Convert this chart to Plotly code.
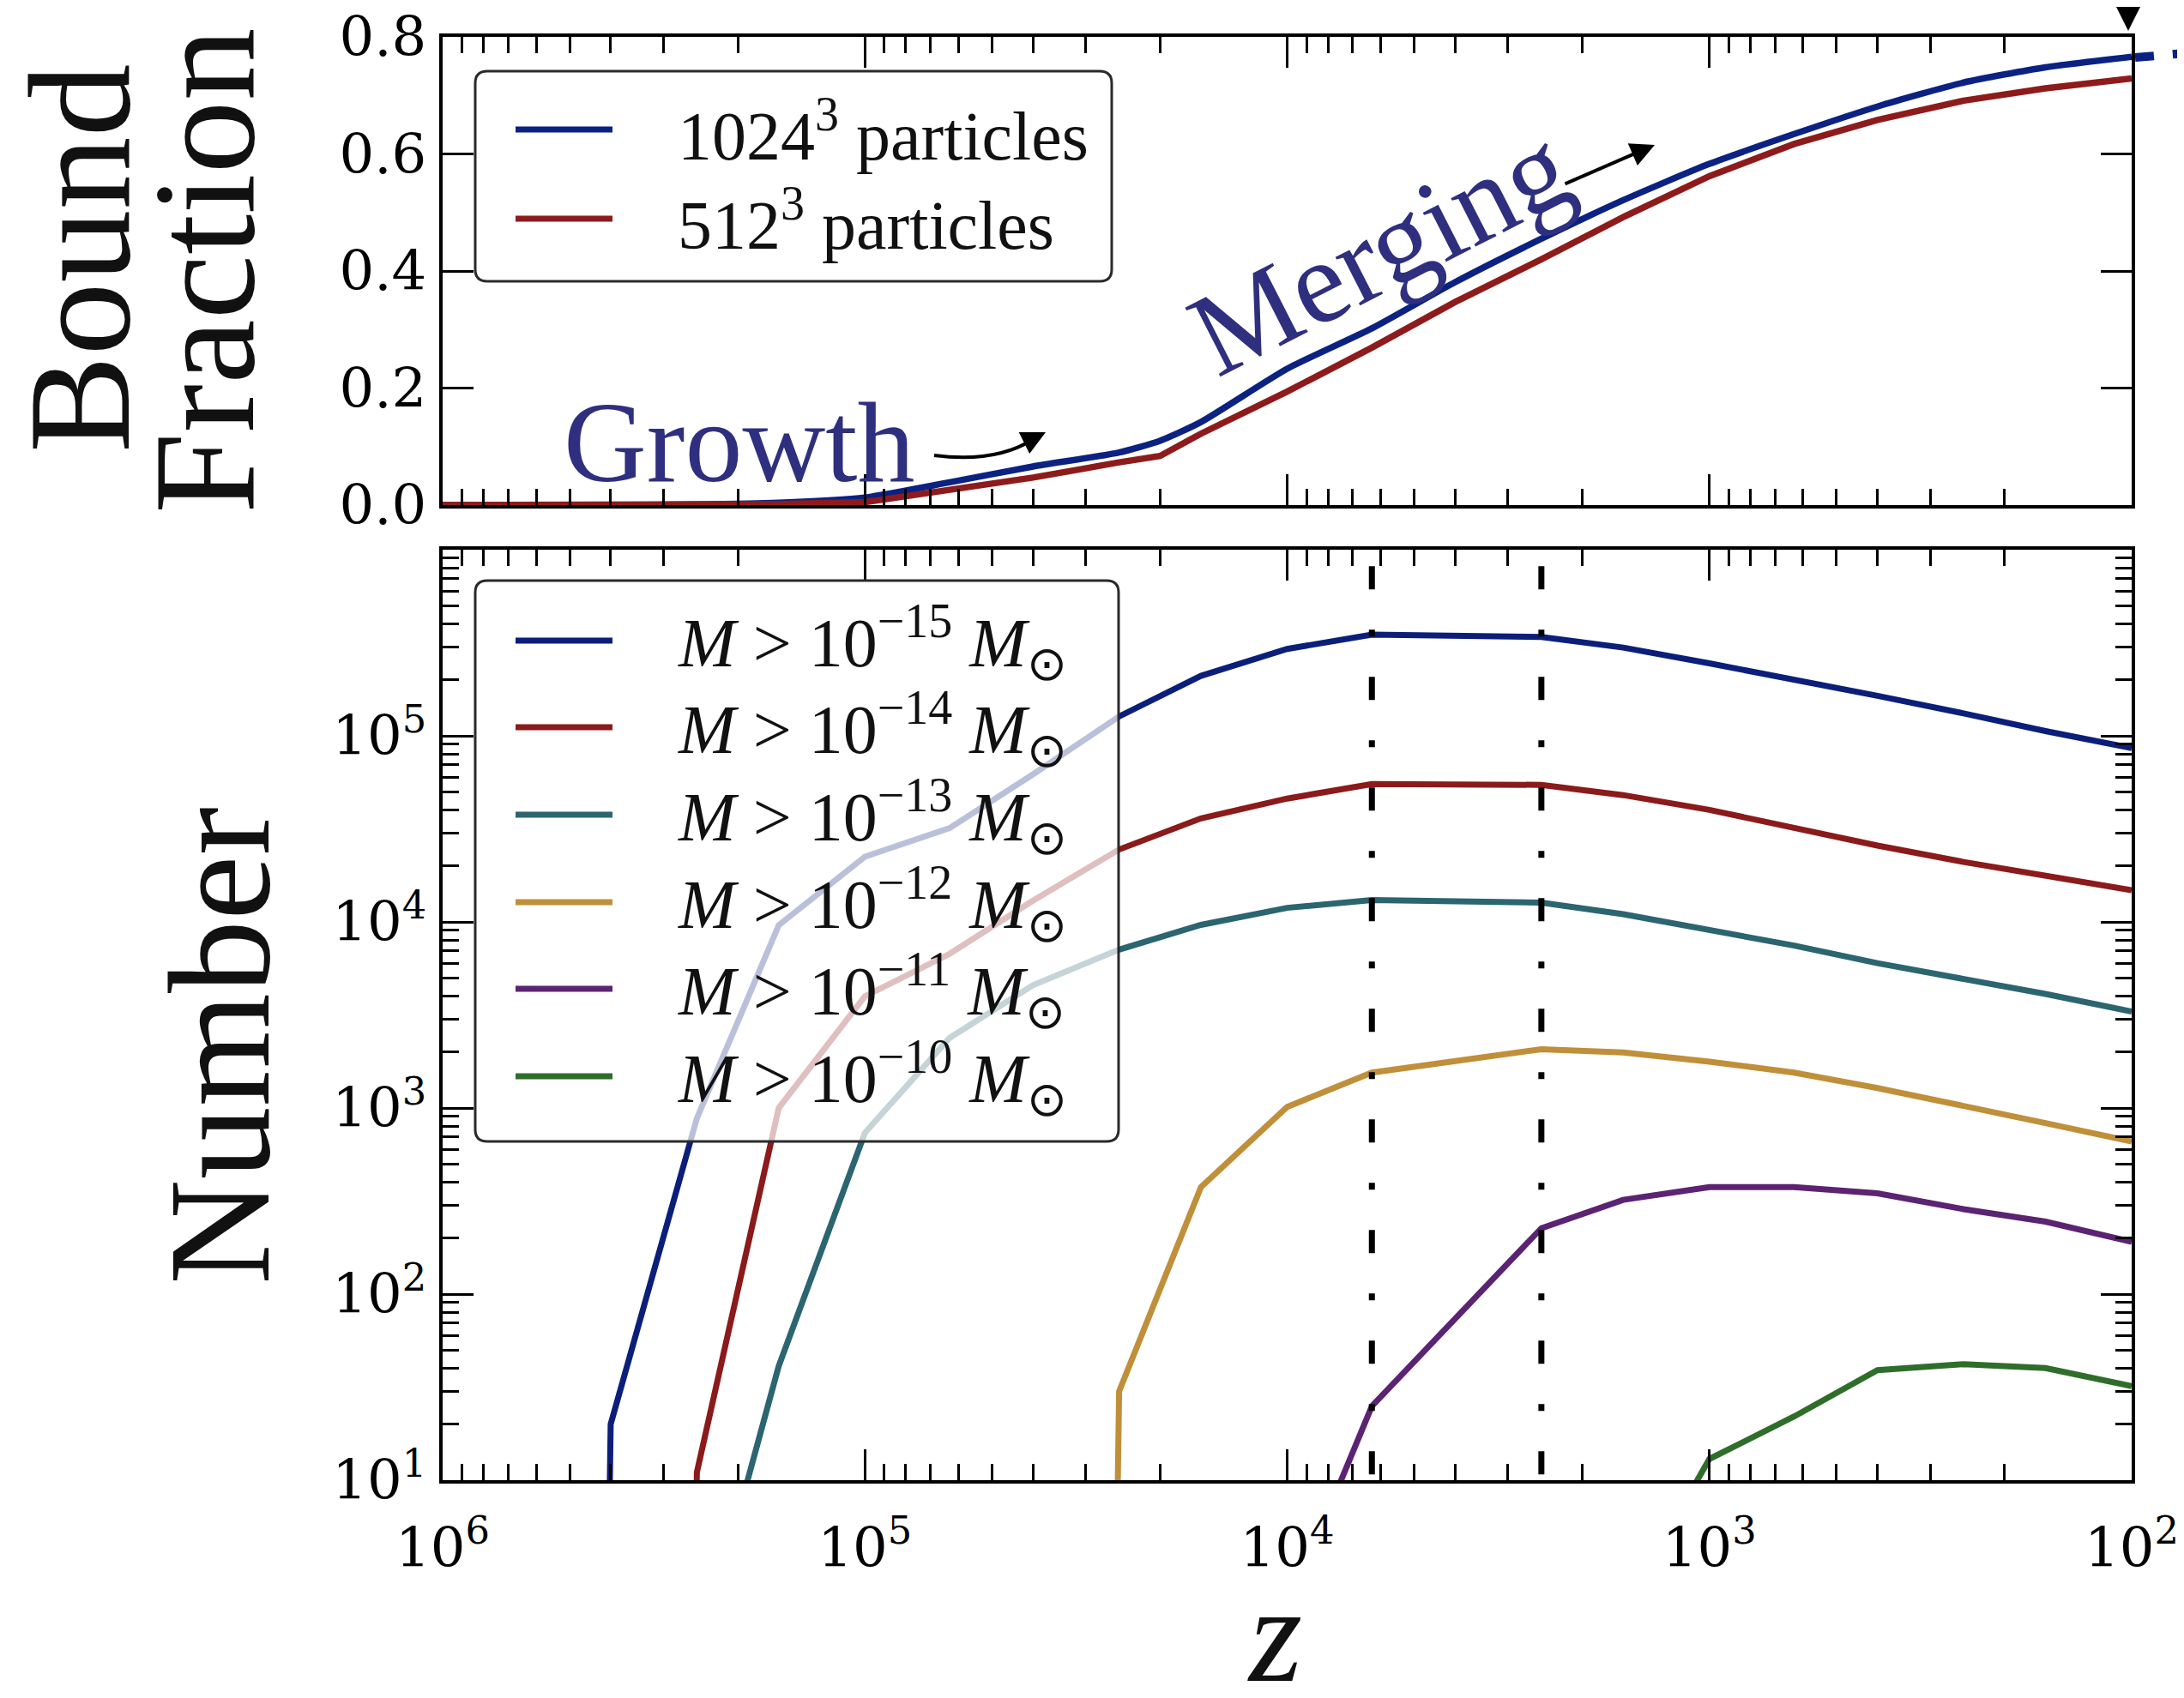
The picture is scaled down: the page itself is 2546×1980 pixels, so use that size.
import plotly.graph_objects as go

W, H = 2546, 1980
OFF = 8  # page body margin of the browser

# ---------------- data ----------------
# top panel: redshift samples and bound fraction
Z_TOP = [1e6, 6.3e5, 4e5, 2.5e5, 1.6e5, 1e5, 6.3e4, 4e4, 2.5e4, 2e4, 1.6e4, 1e4,
         6300, 4000, 2500, 1600, 1000, 630, 400, 250, 160, 100]
BOUND_1024 = [0.0, 0.0, 0.0, 0.001, 0.004, 0.013, 0.039, 0.066, 0.090, 0.110, 0.142, 0.233,
              0.302, 0.381, 0.455, 0.521, 0.583, 0.634, 0.681, 0.722, 0.748, 0.766]
BOUND_512 = [0.0, 0.0, 0.0, 0.0, 0.002, 0.005, 0.026, 0.047, 0.073, 0.084, 0.122, 0.194,
             0.269, 0.347, 0.420, 0.492, 0.562, 0.617, 0.658, 0.691, 0.712, 0.729]
TOP_NAMES = ["1024<sup>3</sup> particles", "512<sup>3</sup> particles"]
TOP_COLORS = ["#0B2283", "#8E1B1B"]

# bottom panel: redshift samples and halo counts above mass thresholds
Z_BOT = [1e6, 6.3e5, 4e5, 2.5e5, 1.6e5, 1e5, 6.3e4, 4e4, 2.5e4, 1.6e4, 1e4,
         6300, 2500, 1600, 1000, 630, 400, 250, 160, 100]
N_M15 = [0, 0, 20, 880, 9600, 22400, 31900, 62000, 127000, 210000, 293000,
         350000, 340000, 298000, 245000, 202000, 164000, 132000, 106000, 86000]
N_M14 = [0, 0, 0, 11, 1000, 3980, 6730, 13000, 24500, 36000, 46000,
         55000, 54500, 48000, 40000, 32000, 25700, 21000, 17800, 14800]
N_M13 = [0, 0, 0, 1, 41, 735, 2380, 4570, 7100, 9640, 11900,
         13100, 12700, 11000, 9060, 7460, 6000, 4980, 4100, 3300]
N_M12 = [0, 0, 0, 0, 0, 0, 0, 0, 30, 376, 1014,
         1550, 2070, 1990, 1775, 1550, 1280, 1030, 830, 661]
N_M11 = [0, 0, 0, 0, 0, 0, 0, 0, 0, 0, 2,
         25, 226, 321, 376, 376, 348, 286, 245, 191]
N_M10 = [0, 0, 0, 0, 0, 0, 0, 0, 0, 0, 0,
         0, 0, 2, 13, 22, 39, 42, 40, 32]
MASS_EXP = [-15, -14, -13, -12, -11, -10]
BOT_COLORS = ["#0B1F7A", "#8B1A1A", "#2B6570", "#C08F3A", "#5C2372", "#2F6E2A"]
MERGE_Z = [6300, 2500]

X_TICKS = [1e6, 1e5, 1e4, 1e3, 1e2]
X_TICKTEXT = ["10<sup>6</sup>", "10<sup>5</sup>", "10<sup>4</sup>", "10<sup>3</sup>", "10<sup>2</sup>"]
Y_TOP_TICKS = [0.0, 0.2, 0.4, 0.6, 0.8]
Y_BOT_TICKS = [1e1, 1e2, 1e3, 1e4, 1e5]
Y_BOT_TICKTEXT = ["10<sup>1</sup>", "10<sup>2</sup>", "10<sup>3</sup>", "10<sup>4</sup>", "10<sup>5</sup>"]

# ---------------- helpers ----------------
def P(px, py):
    return (px - OFF) / W, 1 - (py - OFF) / H


LOG_FLOOR = 1e-30  # nonpositive values clipped like matplotlib's log scale


def clip(vals):
    return [v if v > 0 else LOG_FLOOR for v in vals]


minor_x = [m * 10 ** e for e in range(2, 6) for m in range(2, 10)]
minor_y = [m * 10 ** e for e in range(1, 6) for m in range(2, 10)]

X_DOM = [P(516, 0)[0], P(2485, 0)[0]]
Y_TOP_DOM = [P(0, 589)[1], P(0, 43)[1]]
Y_BOT_DOM = [P(0, 1726)[1], P(0, 641)[1]]

fig = go.Figure()

# top panel curves
fig.add_trace(go.Scatter(x=Z_TOP, y=BOUND_1024, mode="lines", name="1024^3",
                         line=dict(color=TOP_COLORS[0], width=7.5, shape="spline", smoothing=0.6),
                         xaxis="x", yaxis="y", showlegend=False))
fig.add_trace(go.Scatter(x=Z_TOP, y=BOUND_512, mode="lines", name="512^3",
                         line=dict(color=TOP_COLORS[1], width=7.5),
                         xaxis="x", yaxis="y", showlegend=False))

# bottom panel curves
series = [N_M15, N_M14, N_M13, N_M12, N_M11, N_M10]
for vals, c, e in zip(series, BOT_COLORS, MASS_EXP):
    fig.add_trace(go.Scatter(x=Z_BOT, y=clip(vals), mode="lines",
                             name=f"M > 1e{e}", line=dict(color=c, width=7),
                             xaxis="x2", yaxis="y2", showlegend=False))

# vertical dash-dot markers
for zm in MERGE_Z:
    fig.add_trace(go.Scatter(x=[zm, zm], y=[10 ** 6.506, 10], mode="lines",
                             line=dict(color="black", width=7, dash="27px,47px,8px,47px"),
                             xaxis="x2", yaxis="y2", showlegend=False, hoverinfo="skip"))

tickfont = dict(family="DejaVu Serif", size=64, color="black")
common = dict(showline=True, linewidth=4, linecolor="black", mirror="ticks",
              ticks="inside", ticklen=36, tickwidth=3, tickcolor="black",
              showgrid=False, zeroline=False, automargin=False, tickfont=tickfont,
              ticklabeloverflow="allow")
minor_common = dict(tickmode="array", ticks="inside", ticklen=19, tickwidth=3, tickcolor="black")

fig.update_layout(
    width=W, height=H, margin=dict(l=0, r=0, t=0, b=0),
    plot_bgcolor="white", paper_bgcolor="white", showlegend=False,
    xaxis=dict(type="log", range=[6, 2], domain=X_DOM, anchor="y",
               tickmode="array", tickvals=X_TICKS, showticklabels=False,
               minor=dict(tickvals=minor_x, **minor_common), **common),
    yaxis=dict(range=[0, 0.8], domain=Y_TOP_DOM, anchor="x",
               tickmode="array", tickvals=Y_TOP_TICKS,
               ticktext=[f"{v:.1f}" for v in Y_TOP_TICKS], ticklabelstandoff=2,
               **common),
    xaxis2=dict(type="log", range=[6, 2], domain=X_DOM, anchor="y2",
                tickmode="array", tickvals=X_TICKS, ticktext=X_TICKTEXT,
                ticklabelstandoff=20,
                minor=dict(tickvals=minor_x, **minor_common), **common),
    yaxis2=dict(type="log", range=[1, 6], domain=Y_BOT_DOM, anchor="x2",
                tickmode="array", tickvals=Y_BOT_TICKS, ticktext=Y_BOT_TICKTEXT,
                ticklabelstandoff=2,
                minor=dict(tickvals=minor_y, **minor_common), **common),
)

shapes = []
annotations = []


def rounded_rect(x0, y0, x1, y1, r):
    pts = [("M", [(x0 + r, y0)]), ("L", [(x1 - r, y0)]), ("Q", [(x1, y0), (x1, y0 + r)]),
           ("L", [(x1, y1 - r)]), ("Q", [(x1, y1), (x1 - r, y1)]), ("L", [(x0 + r, y1)]),
           ("Q", [(x0, y1), (x0, y1 - r)]), ("L", [(x0, y0 + r)]), ("Q", [(x0, y0), (x0 + r, y0)])]
    s = ""
    for cmd, ps in pts:
        s += cmd + " " + " ".join(f"{P(a, b)[0]:.5f},{P(a, b)[1]:.5f}" for a, b in ps) + " "
    return s + "Z"


def legend(box, rows, names, colors, fs):
    x0, y0, x1, y1 = box
    shapes.append(dict(type="path", xref="paper", yref="paper", layer="above",
                       path=rounded_rect(x0, y0, x1, y1, 14),
                       fillcolor="rgba(255,255,255,0.72)",
                       line=dict(color="#2a2a2a", width=3)))
    for ry, n, c in zip(rows, names, colors):
        a, b = P(601, ry)
        a2, _ = P(714, ry)
        shapes.append(dict(type="line", xref="paper", yref="paper", layer="above",
                           x0=a, x1=a2, y0=b, y1=b, line=dict(color=c, width=7)))
        tx, ty = P(788, ry + 2)
        annotations.append(dict(x=tx, y=ty, xref="paper", yref="paper", text=n,
                                showarrow=False, xanchor="left", yanchor="middle",
                                font=dict(family="Liberation Serif", size=fs, color="#111")))


legend((554, 83, 1296, 328), [151, 255], TOP_NAMES, TOP_COLORS, 80)
bot_names = [f"<i>M</i> > 10<sup>\u2212{abs(e)}</sup> <i>M</i><sub>\u2299</sub>" for e in MASS_EXP]
legend((554, 677, 1304, 1331), [747, 848, 950, 1052, 1153, 1255], bot_names, BOT_COLORS, 80)

# axis titles
title_font = dict(family="Liberation Serif", size=170, color="#111")
for txt, cx, cy in [("Bound", 93, 302), ("Fraction", 238, 316), ("Number", 256, 1220)]:
    x, y = P(cx, cy)
    annotations.append(dict(x=x, y=y, xref="paper", yref="paper", text=txt, textangle=-90,
                            showarrow=False, xanchor="center", yanchor="middle", font=title_font))
x, y = P(1486, 1906)
annotations.append(dict(x=x, y=y, xref="paper", yref="paper", text="<i>z</i>", showarrow=False,
                        xanchor="center", yanchor="middle",
                        font=dict(family="Liberation Serif", size=160, color="#111")))

# phase labels
phase_color = "#2F2F7F"
x, y = P(655, 516)
annotations.append(dict(x=x, y=y, xref="paper", yref="paper", text="Growth", showarrow=False,
                        xanchor="left", yanchor="middle",
                        font=dict(family="Liberation Serif", size=134, color=phase_color)))
x, y = P(1608, 292)
annotations.append(dict(x=x, y=y, xref="paper", yref="paper", text="Merging", showarrow=False,
                        textangle=-27, xanchor="center", yanchor="middle",
                        font=dict(family="Liberation Serif", size=138, color=phase_color)))

# curved arrow after "Growth"
p0, pc, p1 = P(1089, 531), P(1160, 540), P(1203, 513)
shapes.append(dict(type="path", xref="paper", yref="paper", layer="above",
                   path=f"M {p0[0]:.5f},{p0[1]:.5f} Q {pc[0]:.5f},{pc[1]:.5f} {p1[0]:.5f},{p1[1]:.5f}",
                   line=dict(color="black", width=4)))
arrow = dict(xref="paper", yref="paper", text="", showarrow=True, arrowhead=2,
             arrowsize=1.4, arrowwidth=4, arrowcolor="black")
x, y = P(1219, 504)
annotations.append(dict(x=x, y=y, ax=-24, ay=12, **arrow))
# arrow after "Merging"
x, y = P(1929, 169)
annotations.append(dict(x=x, y=y, ax=-106, ay=46, **arrow))
# arrow at the top right
x, y = P(2481, 36)
annotations.append(dict(x=x, y=y, ax=0, ay=-50, **arrow))
# blue dashed continuation beyond the frame
a, b = P(2489, 67)
a2, b2 = P(2560, 61)
shapes.append(dict(type="line", xref="paper", yref="paper", layer="above", x0=a, y0=b, x1=a2, y1=b2,
                   line=dict(color=TOP_COLORS[0], width=10, dash="22px,22px")))

fig.update_layout(shapes=shapes, annotations=annotations)
fig.write_html("out.html")
